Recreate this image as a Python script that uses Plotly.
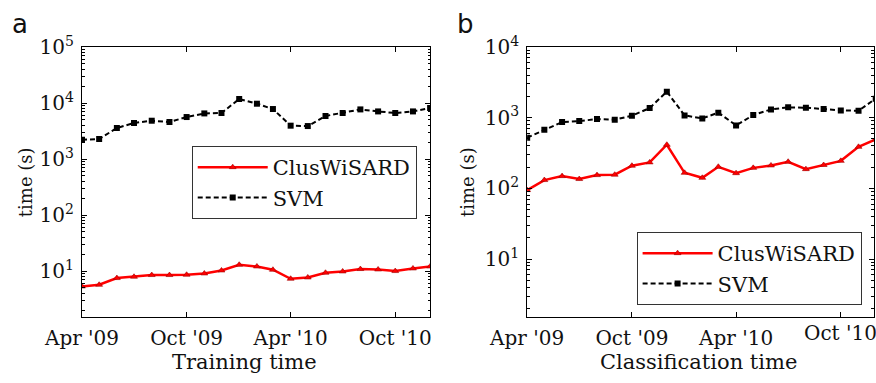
import plotly.graph_objects as go

months = ["2009-04-01","2009-05-01","2009-06-01","2009-07-01","2009-08-01","2009-09-01",
          "2009-10-01","2009-11-01","2009-12-01","2010-01-01","2010-02-01","2010-03-01",
          "2010-04-01","2010-05-01","2010-06-01","2010-07-01","2010-08-01","2010-09-01",
          "2010-10-01","2010-11-01","2010-12-01"]

train_svm = [2210, 2280, 3580, 4400, 4830, 4580, 5620, 6520, 6630, 11800, 9720, 7810,
             3940, 3880, 5860, 6630, 7690, 7080, 6630, 7080, 8150]
train_clus = [5.31, 5.69, 7.5, 7.91, 8.49, 8.49, 8.59, 9.06, 10.25, 12.96, 12.08, 10.55,
              7.29, 7.69, 9.33, 9.84, 10.86, 10.68, 10.0, 11.12, 12.08]
class_svm = [521, 676, 866, 895, 955, 937, 1067, 1367, 2333, 1078, 977, 1177,
             778, 1089, 1310, 1399, 1384, 1324, 1268, 1255, 1857]
class_clus = [94.6, 131, 149, 135.5, 154, 156, 209, 233, 414, 166, 141, 202,
              164, 195, 211, 238, 187, 214, 245, 387, 493]

tick_vals = ["2009-04-01", "2009-10-01", "2010-04-01", "2010-10-01"]
tick_text = ["Apr '09", "Oct '09", "Apr '10", "Oct '10"]
ytick_vals = [10, 100, 1000, 10000, 100000]
ytick_text = ["10<sup>1</sup>", "10<sup>2</sup>", "10<sup>3</sup>", "10<sup>4</sup>", "10<sup>5</sup>"]

SERIF = "DejaVu Serif, Liberation Serif, serif"
RED = "#ff0000"

fig = go.Figure()

def add_pair(clus, svm, xa, ya, leg):
    fig.add_trace(go.Scatter(
        x=months, y=clus, name="ClusWiSARD", xaxis=xa, yaxis=ya, legend=leg,
        mode="lines+markers", line=dict(color=RED, width=2.5),
        marker=dict(symbol="triangle-up", size=6, color=RED, line=dict(color="#a00000", width=0.6))))
    fig.add_trace(go.Scatter(
        x=months, y=svm, name="SVM", xaxis=xa, yaxis=ya, legend=leg,
        mode="lines+markers", line=dict(color="black", width=2, dash="5px,3px"),
        marker=dict(symbol="square", size=6, color="black")))

add_pair(train_clus, train_svm, "x", "y", "legend")
add_pair(class_clus, class_svm, "x2", "y2", "legend2")

# invisible traces to carry the right-side (mirrored) minor ticks
fig.add_trace(go.Scatter(x=months, y=train_svm, xaxis="x", yaxis="y3", mode="lines",
                         opacity=0, showlegend=False, hoverinfo="skip"))
fig.add_trace(go.Scatter(x=months, y=class_svm, xaxis="x2", yaxis="y4", mode="lines",
                         opacity=0, showlegend=False, hoverinfo="skip"))

L, W, T, H = 82, 794, 47, 270
MINOR = [m * 10 ** e for e in range(0, 6) for m in range(2, 10)]
TICKSIZE = 20

def xaxis(domain, rng, text):
    return dict(domain=domain, type="date", range=rng, tickvals=tick_vals, ticktext=text,
                ticks="inside", ticklen=5, tickcolor="black", showline=True, linecolor="black",
                linewidth=1.2, mirror="ticks", showgrid=False, zeroline=False,
                tickfont=dict(family=SERIF, size=TICKSIZE, color="#111"), ticklabelstandoff=3)

def yaxis(anchor, rng):
    return dict(type="log", range=rng, anchor=anchor, ticks="inside", ticklen=5, tickcolor="black",
                showline=True, linecolor="black", linewidth=1.2, mirror="ticks", showgrid=False,
                zeroline=False, tickmode="array", tickvals=ytick_vals, ticktext=ytick_text,
                minor=dict(ticks="inside", ticklen=2.5, tickcolor="black", showgrid=False,
                           tickmode="array", tickvals=MINOR),
                tickfont=dict(family=SERIF, size=TICKSIZE, color="#111"), ticklabelstandoff=3)

def yaxis_mirror(overlay, anchor, rng):
    return dict(type="log", range=rng, overlaying=overlay, anchor=anchor, side="right",
                showticklabels=False, ticks="inside", ticklen=5, tickcolor="black",
                showline=False, showgrid=False, zeroline=False, tickmode="array", tickvals=ytick_vals,
                minor=dict(ticks="inside", ticklen=2.5, tickcolor="black", showgrid=False,
                           tickmode="array", tickvals=MINOR))

x2_start = (528.3 - L) / W
leg_common = dict(xanchor="left", yanchor="top", bordercolor="#333", borderwidth=1, bgcolor="white",
                  font=dict(family=SERIF, size=21, color="#111"), itemwidth=70, tracegroupgap=0)
# right panel: last label is drawn as an annotation because it runs past the figure edge
right_text = tick_text[:-1] + [""]
fig.update_layout(
    width=876, height=383,
    margin=dict(l=L, r=0, t=T, b=383 - T - H),
    paper_bgcolor="white", plot_bgcolor="white",
    xaxis=xaxis([0, 349 / W], ["2009-04-01", "2010-12-01"], tick_text),
    yaxis=yaxis("x", [0.18, 5]),
    xaxis2=xaxis([x2_start, 1.0], ["2009-04-01", "2010-11-28"], right_text),
    yaxis2=yaxis("x2", [0.18, 4]),
    yaxis3=yaxis_mirror("y", "x", [0.18, 5]),
    yaxis4=yaxis_mirror("y2", "x2", [0.18, 4]),
    legend=dict(x=(192 - L) / W, y=(317 - 146) / H, **leg_common),
    legend2=dict(x=(638 - L) / W, y=(317 - 232) / H, **leg_common),
    showlegend=True,
)

def ann(text, x, y, size, family=SERIF, angle=0):
    fig.add_annotation(text=text, x=x, y=y, xref="paper", yref="paper", showarrow=False,
                       xanchor="center", yanchor="middle", textangle=angle,
                       font=dict(family=family, size=size, color="#111"))

def px(xp):
    return (xp - L) / W

def py(yp):
    return (T + H - yp) / H

fig.add_annotation(text=tick_text[-1], x=tick_vals[-1], xref="x2", y=py(333), yref="paper",
                   showarrow=False, xanchor="center", yanchor="middle",
                   font=dict(family=SERIF, size=TICKSIZE, color="#111"))

ann("Training time", px(245), py(362), 21)
ann("Classification time", px(700), py(362), 21)
ann("time (s)", px(25), py(182), 18, angle=-90)
ann("time (s)", px(468), py(182), 18, angle=-90)
ann("a", px(20), py(24), 26, family="DejaVu Sans, sans-serif")
ann("b", px(466), py(24), 26, family="DejaVu Sans, sans-serif")

fig.write_html("out.html")
